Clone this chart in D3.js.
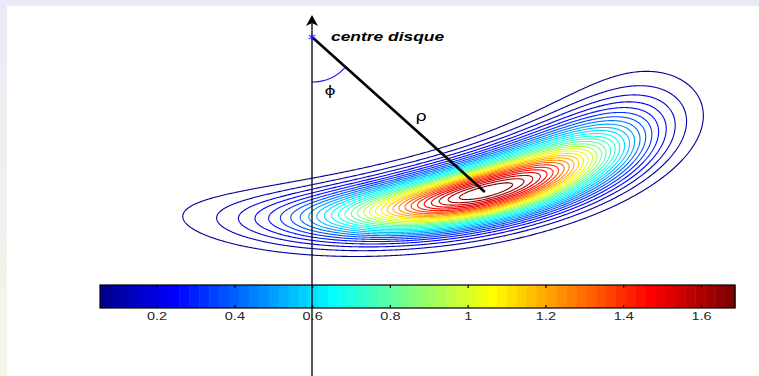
<!DOCTYPE html>
<html>
<head>
<meta charset="utf-8">
<script src="https://cdn.jsdelivr.net/npm/d3@7"></script>
<style>
  html, body { margin: 0; padding: 0; background: #fff; overflow: hidden; }
  svg { display: block; }
</style>
</head>
<body>
<div id="container"></div>
<script>
/* CONSTANTS AND GLOBALS */
const width = 759, height = 376;

// data (disk-centred coordinates, rho in units of the mean distance)
const centreDisque = [0, 0];
const rhoParams = [1.0, 0.105];         // mean at the peak, sigma
const rhoTrend = [-0.00165, -5.5e-6];   // drift of the rho centre with phi (per deg, per deg^2)
const phiParams = [26.3, 16.8, 19.3];   // mean, sigma left, sigma right (degrees from the downward axis)
const peakValue = 1.742;
const nLevels = 31;
const colorbarTicks = [0.2, 0.4, 0.6, 0.8, 1, 1.2, 1.4, 1.6];
const labelTexts = ["centre disque", "\u03D5", "\u03C1"];

// contour levels the matlab way: N levels between 0 and the max
const levels = d3.range(1, nLevels + 1).map(k => peakValue * k / (nLevels + 1));
const cmin = levels[0], cmax = levels[levels.length - 1];

// jet(64)
function jetRow(k) { // k = 1..64
  const u = j => (j < 1 || j > 47) ? 0 : (j <= 16 ? j / 16 : (j <= 31 ? 1 : (48 - j) / 16));
  return d3.rgb(255 * u(k - 24), 255 * u(k - 8), 255 * u(k + 8));
}
const jetColor = v => {
  let k = Math.floor((v - cmin) / (cmax - cmin) * 64) + 1;
  k = Math.max(1, Math.min(64, k));
  return jetRow(k);
};

/* SCALES */
const xScale = d3.scaleLinear().domain([-1, 1]).range([-78, 702]);
const yScale = d3.scaleLinear().domain([0, -2]).range([37, 382.6]);
const cbScale = d3.scaleLinear().domain([cmin, cmax]).range([100, 735]);

// density in (rho, phi)
function density(X, Y) {
  const rho = Math.hypot(X, Y);
  const phi = Math.atan2(X, -Y) * 180 / Math.PI;
  const dphi = phi - phiParams[0];
  const rc = rhoParams[0] + rhoTrend[0] * dphi + rhoTrend[1] * dphi * dphi;
  const z1 = (rho - rc) / rhoParams[1];
  const z2 = dphi / (dphi < 0 ? phiParams[1] : phiParams[2]);
  return peakValue * Math.exp(-(z1 * z1 + z2 * z2) / 2);
}

/* HTML ELEMENTS */
const svg = d3.select("#container")
  .append("svg")
  .attr("width", width)
  .attr("height", height);

// slide background
const defs = svg.append("defs");
const grad = defs.append("linearGradient").attr("id", "side").attr("x1", 0).attr("y1", 0).attr("x2", 0).attr("y2", 1);
grad.append("stop").attr("offset", "0%").attr("stop-color", "#eaeaf6");
grad.append("stop").attr("offset", "100%").attr("stop-color", "#f6f6e8");
svg.append("rect").attr("width", width).attr("height", height).attr("fill", "#fff");
svg.append("rect").attr("x", 0).attr("y", 0).attr("width", 7).attr("height", height).attr("fill", "url(#side)");
svg.append("rect").attr("x", 0).attr("y", 0).attr("width", width).attr("height", 6).attr("fill", "#eaeaf6");

// grid for the contours
const gx0 = 150, gy0 = 40, nx = 600, ny = 260;
const values = new Float64Array(nx * ny);
for (let j = 0; j < ny; j++) {
  const Y = yScale.invert(gy0 + j);
  for (let i = 0; i < nx; i++) {
    values[j * nx + i] = density(xScale.invert(gx0 + i), Y);
  }
}
const contours = d3.contours().size([nx, ny]).thresholds(levels)(values);
const path = d3.geoPath(d3.geoIdentity().translate([gx0 - 0.5, gy0 - 0.5]));

svg.append("g")
  .selectAll("path")
  .data(contours)
  .join("path")
  .attr("d", path)
  .attr("fill", "none")
  .attr("stroke", d => jetColor(d.value))
  .attr("stroke-width", 1.1);

// colorbar
const cb = svg.append("g");
const cbTop = 285, cbH = 23;
const dv = (cmax - cmin) / 64;
cb.selectAll("rect.c")
  .data(d3.range(1, 65))
  .join("rect")
  .attr("class", "c")
  .attr("x", k => cbScale(cmin + (k - 1) * dv))
  .attr("width", k => cbScale(cmin + k * dv) - cbScale(cmin + (k - 1) * dv) + 0.5)
  .attr("y", cbTop)
  .attr("height", cbH)
  .attr("fill", k => jetRow(k));

const axB = cb.append("g")
  .attr("transform", `translate(0,${cbTop + cbH})`)
  .call(d3.axisBottom(cbScale).tickValues(colorbarTicks).tickSizeInner(-3).tickSizeOuter(0).tickPadding(5).tickFormat(d => String(d)));
const axT = cb.append("g")
  .attr("transform", `translate(0,${cbTop})`)
  .call(d3.axisTop(cbScale).tickValues(colorbarTicks).tickSizeInner(-3).tickSizeOuter(0).tickFormat(""));
cb.selectAll(".domain").remove();
cb.selectAll(".tick line").attr("stroke", "#000").attr("stroke-width", 1.2);
axB.selectAll("text")
  .attr("fill", "#262626")
  .style("font-family", "'Liberation Sans', Arial, sans-serif")
  .style("font-size", "10px")
  .attr("transform", "scale(1.45,1)");
cb.append("rect")
  .attr("x", cbScale.range()[0]).attr("y", cbTop)
  .attr("width", cbScale.range()[1] - cbScale.range()[0]).attr("height", cbH)
  .attr("fill", "none").attr("stroke", "#000").attr("stroke-width", 1.2);

// rho / phi construction
const sx = xScale(centreDisque[0]), sy = yScale(centreDisque[1]);
const phi0 = phiParams[0] * Math.PI / 180;
const px = xScale(rhoParams[0] * Math.sin(phi0)), py = yScale(-rhoParams[0] * Math.cos(phi0));

const ang = Math.atan2(py - sy, px - sx);
const arcR = 45;
const p = d3.path();
p.moveTo(sx, sy + arcR);
p.arc(sx, sy, arcR, Math.PI / 2, ang, true);
svg.append("path").attr("d", p.toString()).attr("fill", "none").attr("stroke", "#1a1aff").attr("stroke-width", 1.1);

svg.append("line")
  .attr("x1", sx).attr("y1", sy).attr("x2", px).attr("y2", py)
  .attr("stroke", "#000").attr("stroke-width", 2.6);

// vertical axis with arrow
svg.append("line")
  .attr("x1", sx).attr("x2", sx).attr("y1", 22).attr("y2", height)
  .attr("stroke", "#000").attr("stroke-width", 1.3);
svg.append("path")
  .attr("d", `M${sx},15 L${sx - 6},26 L${sx},23 L${sx + 6},26 Z`)
  .attr("fill", "#000");

// star
svg.append("path")
  .attr("d", d3.symbol(d3.symbolAsterisk, 40)())
  .attr("transform", `translate(${sx},${sy})`)
  .attr("fill", "none").attr("stroke", "#2020ff").attr("stroke-width", 1.1);

// labels
svg.append("text")
  .attr("transform", "translate(331,41) scale(1.45,1)")
  .style("font-family", "'Liberation Sans', Arial, sans-serif")
  .style("font-size", "12px").style("font-weight", "bold").style("font-style", "italic")
  .attr("fill", "#000")
  .text(labelTexts[0]);
svg.append("text")
  .attr("transform", "translate(330,95) scale(1.3,1)")
  .attr("text-anchor", "middle")
  .style("font-family", "'DejaVu Sans', sans-serif")
  .style("font-size", "13px")
  .attr("fill", "#000")
  .text(labelTexts[1]);
svg.append("text")
  .attr("transform", "translate(421,121) scale(1.3,1)")
  .attr("text-anchor", "middle")
  .style("font-family", "'DejaVu Sans', sans-serif")
  .style("font-size", "14px")
  .attr("fill", "#000")
  .text(labelTexts[2]);
</script>
</body>
</html>
